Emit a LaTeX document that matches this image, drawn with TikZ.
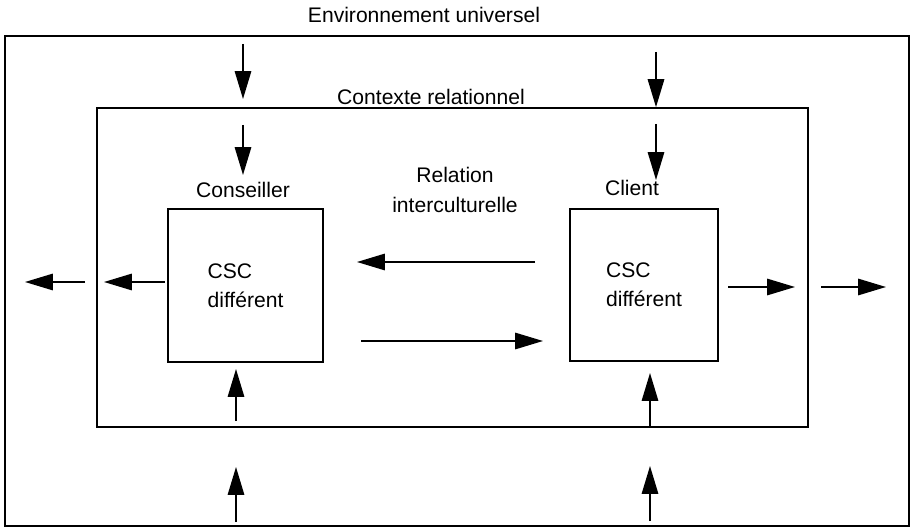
\documentclass[tikz,border=0pt]{standalone}
\usepackage{fontspec}
\setmainfont{Liberation Sans}
\usetikzlibrary{arrows.meta}

\begin{document}
\begin{tikzpicture}[x=0.02cm,y=-0.02cm,>={Triangle[length=0.56cm,width=0.33cm]}]
\tikzset{
  box/.style={draw,line width=1pt,inner sep=0pt,align=left,font=\fontsize{12}{16.5}\selectfont},
  lab/.style={font=\fontsize{12}{17}\selectfont,align=center,inner sep=1pt},
  arr/.style={->,line width=.9pt}
}
\useasboundingbox (0,0) rectangle (910,527);
% frames
\node[box,minimum width=18.08cm,minimum height=9.8cm] (env) at (457,281) {};
\node[box,minimum width=14.22cm,minimum height=6.38cm] (ctx) at (452.5,267.5) {};
\node[box,minimum width=3.1cm,minimum height=3.06cm] (cons) at (245.5,285.5) {CSC\\différent};
\node[box,minimum width=2.96cm,minimum height=3.04cm] (cli) at (644,285) {CSC\\différent};
% labels
\node[lab] (envlab) at (424,15) {Environnement universel};
\node[lab] (ctxlab) at (431,97) {Contexte relationnel};
\node[lab] (conslab) at (243,190) {Conseiller};
\node[lab] (clilab) at (632,188) {Client};
\node[lab] (rellab) at (455,190) {Relation\\interculturelle};
% arrow ends
\coordinate (tl1) at (243,44);   \coordinate (tl2) at (243,99);
\coordinate (tl3) at (243,125);  \coordinate (tl4) at (243,175);
\coordinate (tr1) at (656,52);
\coordinate (tr3) at (656,124);  \coordinate (tr4) at (656,180);
\coordinate (le1) at (165,282);  \coordinate (le2) at (104,282);
\coordinate (le3) at (85,282);   \coordinate (le4) at (25,282);
\coordinate (ri1) at (728,287);  \coordinate (ri2) at (795,287);
\coordinate (ri3) at (821,287);  \coordinate (ri4) at (886,287);
\coordinate (mid1) at (535,262); \coordinate (mid2) at (357,262);
\coordinate (mid3) at (361,341); \coordinate (mid4) at (543,341);
\coordinate (bl1) at (236,421);  \coordinate (bl2) at (236,369);
\coordinate (bl3) at (236,522);  \coordinate (bl4) at (236,467);
\coordinate (br2) at (650,373);
\coordinate (br3) at (650,521);  \coordinate (br4) at (650,466);
% arrows
\draw[arr] (tl1) -- (tl2);
\draw[arr] (tl3) -- (tl4);
\draw[arr] (tr1) -- (tr1 |- ctx.north);
\draw[arr] (tr3) -- (tr4);
\draw[arr] (le1) -- (le2);
\draw[arr] (le3) -- (le4);
\draw[arr] (ri1) -- (ri2);
\draw[arr] (ri3) -- (ri4);
\draw[arr] (mid1) -- (mid2);
\draw[arr] (mid3) -- (mid4);
\draw[arr] (bl1) -- (bl2);
\draw[arr] (bl3) -- (bl4);
\draw[arr] (br2 |- ctx.south) -- (br2);
\draw[arr] (br3) -- (br4);
\end{tikzpicture}
\end{document}
